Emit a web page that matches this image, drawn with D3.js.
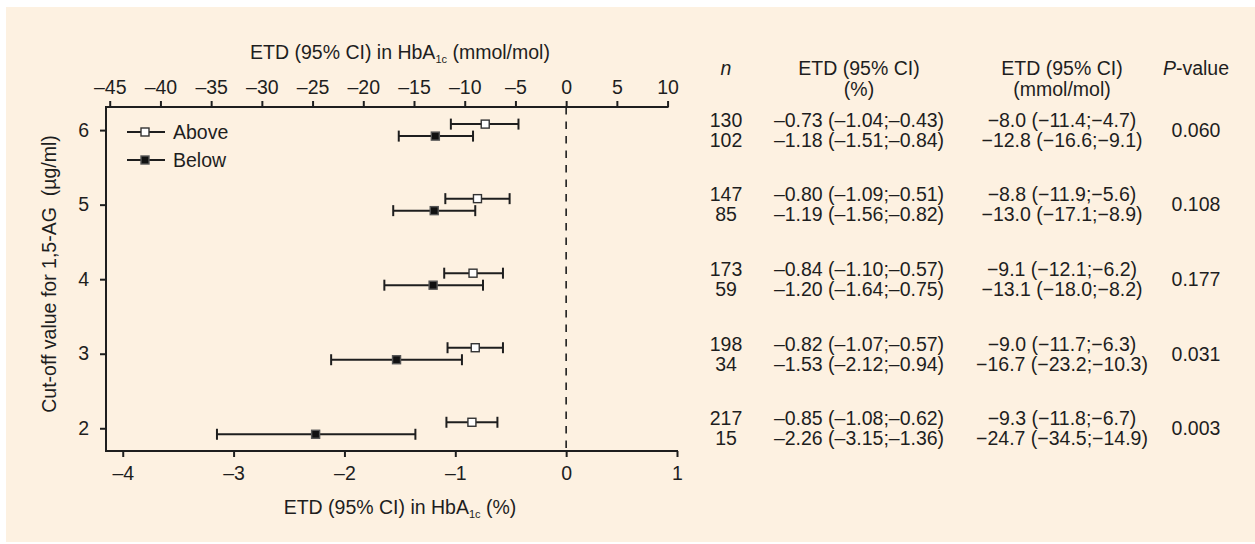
<!DOCTYPE html>
<html>
<head>
<meta charset="utf-8">
<script src="https://cdn.jsdelivr.net/npm/d3@7"></script>
<style>
	body { margin: 0; background: #fff; }
	text { font-family: "Liberation Sans", Arial, Helvetica, sans-serif; fill: #1e1e1e; }
</style>
</head>
<body>
<div id="chart"></div>
<script>
// Cut-off values for 1,5-AG (ug/ml), top row first
const cutoffs = [6, 5, 4, 3, 2];

// Patients above / below the cut-off
const nAbove = [130, 147, 173, 198, 217];
const nBelow = [102, 85, 59, 34, 15];

// ETD in HbA1c (%), estimate and 95% CI
const etdAbove   = [-0.73, -0.80, -0.84, -0.82, -0.85];
const loAbove    = [-1.04, -1.09, -1.10, -1.07, -1.08];
const hiAbove    = [-0.43, -0.51, -0.57, -0.57, -0.62];
const etdBelow   = [-1.18, -1.19, -1.20, -1.53, -2.26];
const loBelow    = [-1.51, -1.56, -1.64, -2.12, -3.15];
const hiBelow    = [-0.84, -0.82, -0.75, -0.94, -1.36];

// ETD in HbA1c (mmol/mol), estimate and 95% CI
const mmolAbove   = [-8.0, -8.8, -9.1, -9.0, -9.3];
const mmolLoAbove = [-11.4, -11.9, -12.1, -11.7, -11.8];
const mmolHiAbove = [-4.7, -5.6, -6.2, -6.3, -6.7];
const mmolBelow   = [-12.8, -13.0, -13.1, -16.7, -24.7];
const mmolLoBelow = [-16.6, -17.1, -18.0, -23.2, -34.5];
const mmolHiBelow = [-9.1, -8.9, -8.2, -10.3, -14.9];

const pValues = ["0.060", "0.108", "0.177", "0.031", "0.003"];

// Axis ticks
const pctTicks = [-4, -3, -2, -1, 0, 1];
const mmolTicks = [-45, -40, -35, -30, -25, -20, -15, -10, -5, 0, 5, 10];

const W = 1255, H = 544;
const FONT = 19.5;
const INK = "#1e1e1e";
const MMOL_PER_PCT = 10.929;	// IFCC conversion, % -> mmol/mol

const svg = d3.select("#chart")
	.append("svg")
	.attr("width", W)
	.attr("height", H);

// Cream panel
svg.append("rect")
	.attr("x", 6).attr("y", 7)
	.attr("width", W - 6).attr("height", 535)
	.attr("fill", "#fdf1e1");

const xPct = d3.scaleLinear().domain([-4.151, 1]).range([106, 677]);
const xMmol = d3.scaleLinear()
	.domain(xPct.domain().map(d => d * MMOL_PER_PCT))
	.range(xPct.range());
const y = d3.scaleLinear().domain([1.695, 6.31]).range([451, 107]);

const plotTop = y.range()[1], plotBottom = y.range()[0], plotLeft = xPct.range()[0];

// en dash for negative numbers, as in the figure
const dashFmt = d => (d < 0 ? "\u2013" : "") + Math.abs(d);

function styleAxis(g) {
	g.select(".domain").remove();
	g.attr("color", INK)
		.attr("font-size", FONT)
		.attr("font-family", null);
	g.selectAll(".tick line").attr("stroke-width", 2);
}

// Top axis (mmol/mol)
svg.append("g")
	.attr("transform", `translate(0,${plotTop})`)
	.call(d3.axisTop(xMmol).tickValues(mmolTicks).tickSize(6).tickPadding(7).tickFormat(dashFmt))
	.call(styleAxis);

// Bottom axis (%)
svg.append("g")
	.attr("transform", `translate(0,${plotBottom})`)
	.call(d3.axisBottom(xPct).tickValues(pctTicks).tickSize(6).tickPadding(9).tickFormat(dashFmt))
	.call(styleAxis);

// Left axis (cut-off)
svg.append("g")
	.attr("transform", `translate(${plotLeft},0)`)
	.call(d3.axisLeft(y).tickValues(cutoffs).tickSize(6).tickPadding(11).tickFormat(d3.format("d")))
	.call(styleAxis);

// Frame lines: top, left, bottom
const frame = svg.append("g").attr("stroke", INK).attr("stroke-width", 2).attr("fill", "none");
frame.append("line").attr("x1", plotLeft - 1).attr("x2", xMmol(10) + 1).attr("y1", plotTop).attr("y2", plotTop);
frame.append("line").attr("x1", plotLeft).attr("x2", plotLeft).attr("y1", plotTop).attr("y2", plotBottom);
frame.append("line").attr("x1", plotLeft - 1).attr("x2", xPct(1) + 1).attr("y1", plotBottom).attr("y2", plotBottom);

// Zero reference line
svg.append("line")
	.attr("x1", xPct(0)).attr("x2", xPct(0))
	.attr("y1", plotTop).attr("y2", plotBottom)
	.attr("stroke", INK)
	.attr("stroke-width", 1.6)
	.attr("stroke-dasharray", "7.5,7");

// Axis titles with HbA1c subscript
function hba1cTitle(x, yc, unit) {
	const t = svg.append("text")
		.attr("x", x).attr("y", yc)
		.attr("dy", "0.35em")
		.attr("text-anchor", "middle")
		.attr("font-size", FONT);
	t.append("tspan").text("ETD (95% CI) in HbA");
	t.append("tspan").attr("font-size", 11).attr("dy", 4).text("1c");
	t.append("tspan").attr("dy", -4).text(" (" + unit + ")");
}
hba1cTitle(400, 52, "mmol/mol");
hba1cTitle(400, 507, "%");

svg.append("text")
	.attr("transform", "translate(49,274) rotate(-90)")
	.attr("dy", "0.35em")
	.attr("text-anchor", "middle")
	.attr("font-size", FONT)
	.style("white-space", "pre")
	.text("Cut-off value for 1,5-AG  (\u00b5g/ml)");

// Error bars
const OFFSET = 6, CAP = 5.5, MARK = 8;

function drawSeries(est, lo, hi, dy, fill, stroke) {
	const g = svg.append("g");
	const rows = g.selectAll("g")
		.data(cutoffs.map((c, i) => ({ c: c, est: est[i], lo: lo[i], hi: hi[i] })))
		.join("g")
		.attr("transform", d => `translate(0,${y(d.c) + dy})`);

	rows.append("line")
		.attr("x1", d => xPct(d.lo)).attr("x2", d => xPct(d.hi))
		.attr("stroke", INK).attr("stroke-width", 2);
	rows.append("line")
		.attr("x1", d => xPct(d.lo)).attr("x2", d => xPct(d.lo))
		.attr("y1", -CAP).attr("y2", CAP)
		.attr("stroke", INK).attr("stroke-width", 2);
	rows.append("line")
		.attr("x1", d => xPct(d.hi)).attr("x2", d => xPct(d.hi))
		.attr("y1", -CAP).attr("y2", CAP)
		.attr("stroke", INK).attr("stroke-width", 2);
	rows.append("rect")
		.attr("x", d => xPct(d.est) - MARK / 2).attr("y", -MARK / 2)
		.attr("width", MARK).attr("height", MARK)
		.attr("fill", fill).attr("stroke", stroke).attr("stroke-width", 1.4);
}
drawSeries(etdAbove, loAbove, hiAbove, -OFFSET, "#fff", "#333");
drawSeries(etdBelow, loBelow, hiBelow, OFFSET, "#111", "#555");

// Legend
const legend = [
	{ label: "Above", fill: "#fff", stroke: "#333", y: 132 },
	{ label: "Below", fill: "#111", stroke: "#555", y: 160 }
];
legend.forEach(d => {
	svg.append("line")
		.attr("x1", 127).attr("x2", 165).attr("y1", d.y).attr("y2", d.y)
		.attr("stroke", INK).attr("stroke-width", 2);
	svg.append("rect")
		.attr("x", 145 - MARK / 2).attr("y", d.y - MARK / 2)
		.attr("width", MARK).attr("height", MARK)
		.attr("fill", d.fill).attr("stroke", d.stroke).attr("stroke-width", 1.4);
	svg.append("text")
		.attr("x", 173).attr("y", d.y).attr("dy", "0.35em")
		.attr("font-size", FONT)
		.text(d.label);
});

// Table on the right
const COL_N = 726, COL_PCT = 859, COL_MMOL = 1062, COL_P = 1196;
const pctFmt = v => (v < 0 ? "\u2013" : "") + Math.abs(v).toFixed(2);
const mmolFmt = v => (v < 0 ? "\u2212" : "") + Math.abs(v).toFixed(1);
const pctCell = (e, l, h) => `${pctFmt(e)} (${pctFmt(l)};${pctFmt(h)})`;
const mmolCell = (e, l, h) => `${mmolFmt(e)} (${mmolFmt(l)};${mmolFmt(h)})`;

function cell(x, yc, str) {
	return svg.append("text")
		.attr("x", x).attr("y", yc).attr("dy", "0.35em")
		.attr("text-anchor", "middle")
		.attr("font-size", FONT)
		.text(str);
}

// Headers
cell(COL_N, 68, "n").attr("font-style", "italic");
cell(COL_PCT, 68, "ETD (95% CI)");
cell(COL_PCT, 89, "(%)");
cell(COL_MMOL, 68, "ETD (95% CI)");
cell(COL_MMOL, 89, "(mmol/mol)");
const ph = cell(COL_P, 68, "");
ph.append("tspan").attr("font-style", "italic").text("P");
ph.append("tspan").text("-value");

cutoffs.forEach((c, i) => {
	const yc = y(c);
	cell(COL_N, yc - 10, nAbove[i]);
	cell(COL_N, yc + 10, nBelow[i]);
	cell(COL_PCT, yc - 10, pctCell(etdAbove[i], loAbove[i], hiAbove[i]));
	cell(COL_PCT, yc + 10, pctCell(etdBelow[i], loBelow[i], hiBelow[i]));
	cell(COL_MMOL, yc - 10, mmolCell(mmolAbove[i], mmolLoAbove[i], mmolHiAbove[i]));
	cell(COL_MMOL, yc + 10, mmolCell(mmolBelow[i], mmolLoBelow[i], mmolHiBelow[i]));
	cell(COL_P, yc, pValues[i]);
});
</script>
</body>
</html>
